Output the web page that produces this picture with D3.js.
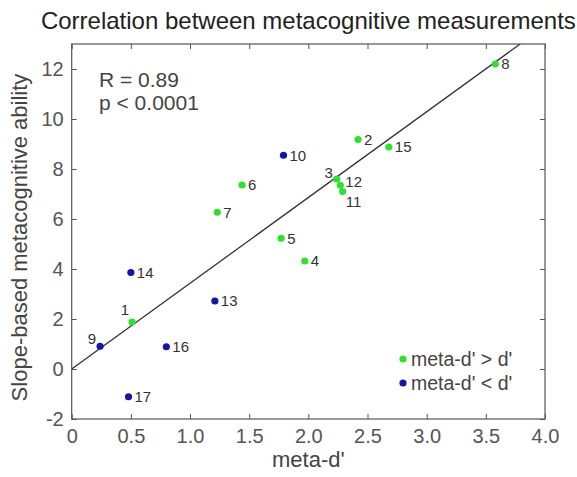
<!DOCTYPE html>
<html>
<head>
<meta charset="utf-8">
<script src="https://cdn.jsdelivr.net/npm/d3@7"></script>
<style>
  html, body { margin: 0; padding: 0; background: #fff; }
  svg { display: block; font-family: "Liberation Sans", Arial, sans-serif; }
</style>
</head>
<body>
<div id="chart"></div>
<script>
// ---- data ----
const subjectIds = [1, 2, 3, 4, 5, 6, 7, 8, 9, 10, 11, 12, 13, 14, 15, 16, 17];
const metaD      = [0.51, 2.42, 2.24, 1.97, 1.77, 1.44, 1.23, 3.58, 0.24, 1.79, 2.29, 2.27, 1.21, 0.50, 2.68, 0.80, 0.48];
const slopeAbility = [1.88, 9.18, 7.60, 4.32, 5.23, 7.36, 6.27, 12.20, 0.91, 8.55, 7.10, 7.35, 2.72, 3.86, 8.88, 0.89, -1.11];
const groups     = ["gt","gt","gt","gt","gt","gt","gt","gt","lt","lt","gt","gt","lt","lt","gt","lt","lt"];
const legendLabels = ["meta-d' > d'", "meta-d' < d'"];
const xTicks = [0, 0.5, 1.0, 1.5, 2.0, 2.5, 3.0, 3.5, 4.0];
const xTickLabels = ["0", "0.5", "1.0", "1.5", "2.0", "2.5", "3.0", "3.5", "4.0"];
const yTicks = [-2, 0, 2, 4, 6, 8, 10, 12];
const yTickLabels = ["-2", "0", "2", "4", "6", "8", "10", "12"];
const fitLine = [3.43, 0.0]; // slope, intercept
const statsText = ["R = 0.89", "p < 0.0001"];

// ---- layout ----
const W = 577, H = 477;
const L = 71.7, R = 545, T = 44, B = 419;
const colors = { gt: "#2fe02f", lt: "#1414a8" };

const svg = d3.select("#chart").append("svg").attr("width", W).attr("height", H);

const x = d3.scaleLinear().domain([0, 4]).range([L, R]);
const y = d3.scaleLinear().domain([-2, 13]).range([B, T]);

const axisColor = "#555";
const tickColor = "#555";

// box
svg.append("rect").attr("x", L).attr("y", T).attr("width", R - L).attr("height", B - T)
  .attr("fill", "none").attr("stroke", axisColor).attr("stroke-width", 1.2);

function styleAxis(g, showLabels, fs) {
  g.select(".domain").remove();
  g.selectAll(".tick line").attr("stroke", tickColor).attr("stroke-width", 1);
  g.selectAll(".tick text").attr("fill", "#555").style("font-size", fs + "px")
    .style("font-family", "'Liberation Sans', Arial, sans-serif");
  if (!showLabels) g.selectAll(".tick text").remove();
}

// bottom
svg.append("g").attr("transform", `translate(0,${B})`)
  .call(d3.axisBottom(x).tickValues(xTicks).tickFormat((d, i) => xTickLabels[i]).tickSizeInner(-5).tickSizeOuter(0).tickPadding(10))
  .call(g => styleAxis(g, true, 20));
// top
svg.append("g").attr("transform", `translate(0,${T})`)
  .call(d3.axisTop(x).tickValues(xTicks).tickSizeInner(-5).tickSizeOuter(0))
  .call(g => styleAxis(g, false, 20));
// left
svg.append("g").attr("transform", `translate(${L},0)`)
  .call(d3.axisLeft(y).tickValues(yTicks).tickFormat((d, i) => yTickLabels[i]).tickSizeInner(-5).tickSizeOuter(0).tickPadding(8))
  .call(g => styleAxis(g, true, 20));
// right
svg.append("g").attr("transform", `translate(${R},0)`)
  .call(d3.axisRight(y).tickValues(yTicks).tickSizeInner(-5).tickSizeOuter(0))
  .call(g => styleAxis(g, false, 20));

// clip
svg.append("clipPath").attr("id", "plotclip").append("rect")
  .attr("x", L).attr("y", T).attr("width", R - L).attr("height", B - T);

// fit line
const xEnd = (13 - fitLine[1]) / fitLine[0];
svg.append("line").attr("clip-path", "url(#plotclip)")
  .attr("x1", x(0)).attr("y1", y(fitLine[1]))
  .attr("x2", x(xEnd)).attr("y2", y(13))
  .attr("stroke", "#333").attr("stroke-width", 1.3);

// points
const pts = subjectIds.map((id, i) => ({ id, x: metaD[i], y: slopeAbility[i], g: groups[i] }));
svg.append("g").selectAll("circle").data(pts).join("circle")
  .attr("cx", d => x(d.x)).attr("cy", d => y(d.y)).attr("r", 3.6)
  .attr("fill", d => colors[d.g]);

// point labels
const special = {
  1: { dx: -3, dy: -12, anchor: "end" },
  3: { dx: -4, dy: -6, anchor: "end" },
  9: { dx: -4, dy: -8, anchor: "end" },
  11: { dx: 3, dy: 10, anchor: "start" },
  12: { dx: 5, dy: -4, anchor: "start" }
};
svg.append("g").selectAll("text").data(pts).join("text")
  .attr("x", d => x(d.x) + (special[d.id] ? special[d.id].dx : 6))
  .attr("y", d => y(d.y) + (special[d.id] ? special[d.id].dy : 0))
  .attr("dy", "0.35em")
  .attr("text-anchor", d => special[d.id] ? special[d.id].anchor : "start")
  .attr("fill", "#333").style("font-size", "15px")
  .text(d => d.id);

// stats
svg.append("g").selectAll("text").data(statsText).join("text")
  .attr("x", 99).attr("y", (d, i) => 86.5 + i * 23)
  .attr("fill", "#444").style("font-size", "21px").text(d => d);

// title
svg.append("text").attr("x", (L + R) / 2).attr("y", 29).attr("text-anchor", "middle")
  .attr("fill", "#222").style("font-size", "24px")
  .text("Correlation between metacognitive measurements");

// axis labels
svg.append("text").attr("x", (L + R) / 2).attr("y", 467).attr("text-anchor", "middle")
  .attr("fill", "#444").style("font-size", "22px").text("meta-d'");
svg.append("text").attr("transform", `translate(27,${(T + B) / 2 + 6}) rotate(-90)`)
  .attr("text-anchor", "middle").attr("fill", "#444").style("font-size", "22px")
  .text("Slope-based metacognitive ability");

// legend
const legendGroups = ["gt", "lt"];
const lg = svg.append("g");
legendGroups.forEach((g, i) => {
  const cy = 359 + i * 24;
  lg.append("circle").attr("cx", 403).attr("cy", cy).attr("r", 3.6).attr("fill", colors[g]);
  lg.append("text").attr("x", 411).attr("y", cy).attr("dy", "0.35em")
    .attr("fill", "#444").style("font-size", "19.5px").text(legendLabels[i]);
});
</script>
</body>
</html>
